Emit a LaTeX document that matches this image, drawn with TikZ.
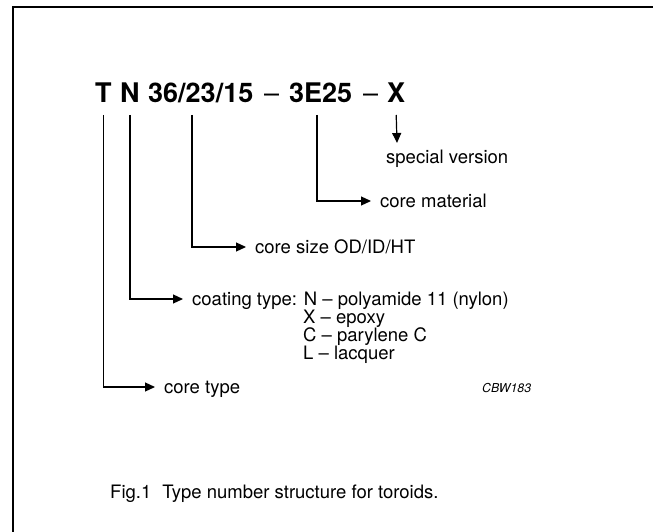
\documentclass[tikz,border=0pt]{standalone}
\usepackage{fontspec}
\setmainfont{TeX Gyre Heros}
\usetikzlibrary{arrows.meta}
\begin{document}
\begin{tikzpicture}[x=1pt,y=-1pt,
  tpart/.style={inner sep=0pt,anchor=base west,font=\fontsize{27}{30}\selectfont\bfseries},
  tdash/.style={inner sep=0pt,anchor=base west,font=\fontsize{27}{30}\selectfont},
  lbl/.style={inner sep=0pt,anchor=west,text height=13pt,text depth=0pt,font=\fontsize{18.5}{20}\selectfont},
  lblb/.style={inner sep=0pt,anchor=base west,font=\fontsize{18.5}{20}\selectfont},
  conn/.style={line width=1.2pt},
  arr/.style={conn,-{Triangle[length=10pt,width=9pt]},shorten >=9pt}]
\useasboundingbox (0,0) rectangle (653,532);
\fill[white] (0,0) rectangle (653,532);
% frame (top and left)
\draw[line width=2pt] (12.5,532) -- (12.5,7) -- (653,7);
% title parts
\node[tpart] (t) at (95,103) {T};
\node[tpart] (n) at (120,103) {N};
\node[tpart] (size) at (148,103) {36/23/15};
\node[tdash] (d1) at (264,103) {–};
\node[tpart] (mat) at (289,103) {3E25};
\node[tdash] (d2) at (363,103) {–};
\node[tpart] (x) at (387,103) {X};
% labels
\node[lblb] (special) at (386,163) {special version};
\node[lbl] (material) at (380,201) {core material};
\node[lbl] (csize) at (255,247) {core size OD/ID/HT};
\node[lbl] (coat) at (192,299) {coating type: N – polyamide 11 (nylon)};
\node[lblb] (coatx) at (303,323) {X – epoxy};
\node[lblb] (coatc) at (303,341) {C – parylene C};
\node[lblb] (coatl) at (303,359) {L – lacquer};
\node[lbl] (ctype) at (164,387) {core type};
\node[inner sep=0pt,anchor=base west,font=\fontsize{12.3}{14}\selectfont\itshape] (code) at (482,392) {CBW183};
\node[lblb] (caption) at (110,498.5) {Fig.1\hspace{0.6em}Type number structure for toroids.};
% connectors
\coordinate (xend) at (397,143);
\draw[conn,-{Triangle[length=10pt,width=9pt]}] ([yshift=-12pt]x.base) -- (xend);
\draw[arr] ([xshift=28pt,yshift=-12pt]mat.base west) |- (material.west);
\draw[arr] ([xshift=44pt,yshift=-12pt]size.base west) |- (csize.west);
\draw[arr] ([yshift=-12pt]n.base) |- (coat.west);
\draw[arr] ([yshift=-12pt]t.base) |- (ctype.west);
\end{tikzpicture}
\end{document}
